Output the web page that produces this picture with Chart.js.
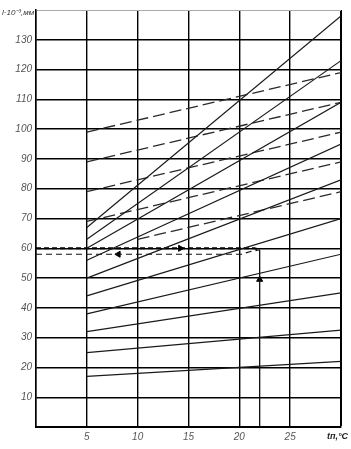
<!DOCTYPE html>
<html>
<head>
<meta charset="utf-8">
<script src="https://cdn.jsdelivr.net/npm/chart.js@4.4.1/dist/chart.umd.min.js"></script>
<style>
  html, body { margin: 0; padding: 0; background: #fff; }
  canvas { display: block; }
</style>
</head>
<body>
<canvas id="graf" width="351" height="449"></canvas>
<script>
// temperatura tп, °C e alongamento l·10⁻³ mm
const tInicio = 5;
const tFim = 30;

// linhas contínuas: valor em t=5 e em t=30
const cheiaEm5 = [67, 63, 60, 56, 50, 44, 38, 32, 25, 17];
const cheiaEm30 = [138, 123, 109, 95, 83, 70, 58, 45, 32.5, 22];

// linhas tracejadas: início (t, l) e valor em t=30
const tracoInicioT = [5, 5, 5, 5, 10];
const tracoInicioL = [99, 89, 79, 69, 63];
const tracoEm30 = [119, 109, 99, 89, 79];

// caminho do exemplo
const subidaT = [22, 22];
const subidaL = [0, 59.5];
const idaT = [0, 21.5, 22];
const idaL = [60, 60, 59.5];
const voltaT = [0, 20.2, 21.2, 22];
const voltaL = [58, 58, 59, 59.5];
const setaT = [14.2, 8.1, 22];
const setaL = [60, 58, 49.5];
const setaRot = [90, 270, 0];

// ticks
const ticksX = [5, 10, 15, 20, 25];
const ticksY = [10, 20, 30, 40, 50, 60, 70, 80, 90, 100, 110, 120, 130];

const pontos = (xs, ys) => xs.map((x, i) => ({ x: x, y: ys[i] }));

const datasets = [];

cheiaEm5.forEach((v, i) => {
    datasets.push({
        data: [{ x: tInicio, y: v }, { x: tFim, y: cheiaEm30[i] }],
        borderColor: '#1a1a1a',
        borderWidth: 1.2
    });
});

tracoInicioL.forEach((v, i) => {
    datasets.push({
        data: [{ x: tracoInicioT[i], y: v }, { x: tFim, y: tracoEm30[i] }],
        borderColor: '#2a2a2a',
        borderWidth: 1.3,
        borderDash: [12, 5]
    });
});

datasets.push({
    data: pontos(subidaT, subidaL),
    borderColor: '#111',
    borderWidth: 1.3
});
datasets.push({
    data: pontos(idaT, idaL),
    borderColor: '#000',
    borderWidth: 2,
    borderDash: [5, 3]
});
datasets.push({
    data: pontos(voltaT, voltaL),
    borderColor: '#111',
    borderWidth: 1.2,
    borderDash: [6, 4]
});
datasets.push({
    data: pontos(setaT, setaL),
    showLine: false,
    pointRadius: 3.5,
    pointStyle: 'triangle',
    pointRotation: setaRot,
    backgroundColor: '#000',
    borderColor: '#000',
    borderWidth: 1
});

// textos do eixo (título em cima e unidade embaixo)
const pluginTextos = {
    id: 'textosEixo',
    afterDraw(chart) {
        const c = chart.ctx;
        c.save();
        c.fillStyle = '#333';
        c.textBaseline = 'middle';
        c.textAlign = 'left';
        c.font = 'italic 8px "Liberation Sans"';
        c.fillText('l·10⁻³,мм', 2, 13);
        c.font = 'italic bold 9px "Liberation Sans"';
        c.fillStyle = '#222';
        c.fillText('tп,°C', 327, 437);
        c.restore();
    }
};

new Chart(document.getElementById('graf'), {
    type: 'scatter',
    data: { datasets: datasets },
    options: {
        responsive: false,
        animation: false,
        devicePixelRatio: 1,
        layout: { padding: { top: 10, right: 10, left: 0, bottom: 0 } },
        elements: {
            point: { radius: 0, hoverRadius: 0 },
            line: { tension: 0, fill: false }
        },
        datasets: { scatter: { showLine: true } },
        plugins: {
            legend: { display: false },
            tooltip: { enabled: false }
        },
        scales: {
            x: {
                type: 'linear',
                min: 0,
                max: 30,
                afterFit: s => { s.height = 22; },
                afterBuildTicks: s => {
                    s.ticks = [0, ...ticksX, 30].map(v => ({ value: v }));
                },
                ticks: {
                    padding: 4,
                    color: '#555',
                    font: { family: 'Liberation Sans', style: 'italic', size: 10 },
                    callback: v => ticksX.includes(v) ? String(v) : ''
                },
                grid: {
                    color: '#000',
                    lineWidth: c => (c.tick && c.tick.value === 30) ? 2 : 1.4,
                    drawTicks: false
                },
                border: { display: true, color: '#000', width: 2 }
            },
            y: {
                type: 'linear',
                min: 0,
                max: 140,
                afterFit: s => { s.width = 36; },
                afterBuildTicks: s => {
                    s.ticks = [0, ...ticksY, 140].map(v => ({ value: v }));
                },
                ticks: {
                    padding: 4,
                    color: '#555',
                    font: { family: 'Liberation Sans', style: 'italic', size: 10 },
                    callback: v => ticksY.includes(v) ? String(v) : ''
                },
                grid: {
                    color: c => (c.tick && c.tick.value === 140) ? '#aaa' : '#000',
                    lineWidth: c => (c.tick && c.tick.value === 140) ? 1 : 1.4,
                    drawTicks: false
                },
                border: { display: true, color: '#000', width: 1.5 }
            }
        }
    },
    plugins: [pluginTextos]
});
</script>
</body>
</html>
